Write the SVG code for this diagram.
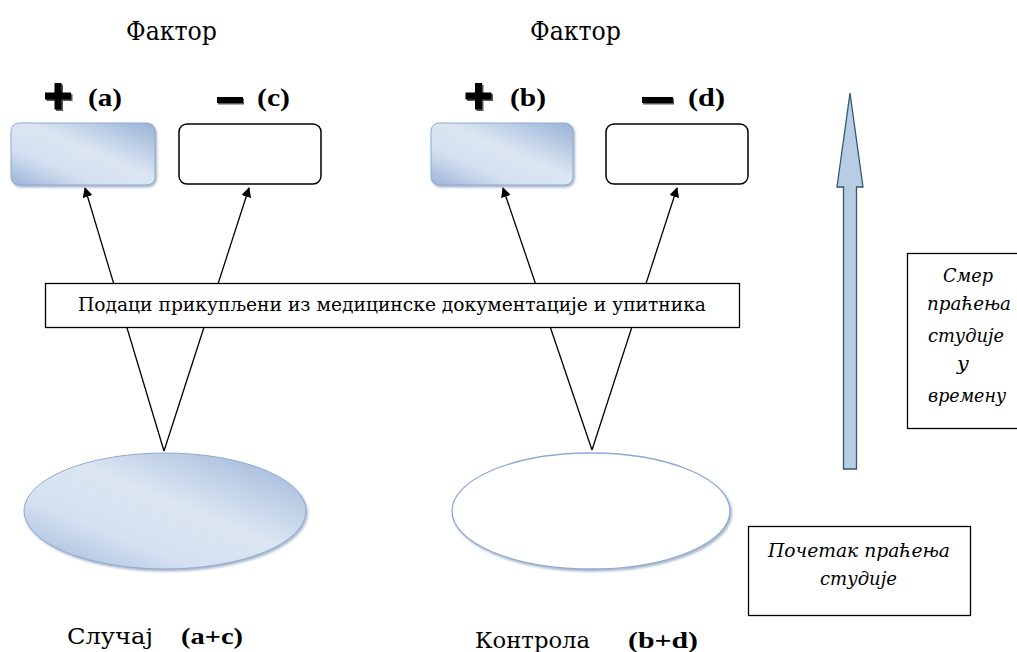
<svg xmlns="http://www.w3.org/2000/svg" width="1017" height="652" viewBox="0 0 1017 652">
<style>
.t{font-family:'DejaVu Serif',serif;fill:#000}
.lb{font-family:'Liberation Serif','DejaVu Serif',serif;font-weight:bold;fill:#000}
.i{font-style:italic}
.wb{fill:#fff;stroke:#000;stroke-width:1.5}
.bb{fill:url(#g);stroke:#8eaad3;stroke-width:1}
.ln{stroke:#000;stroke-width:1.3;fill:none}
.frame{fill:#fff;stroke:#000;stroke-width:1.3}
.sd{fill:#5a5a5a}
</style>
<defs>
<linearGradient id="g" x1="0" y1="1" x2="1" y2="0">
<stop offset="0" stop-color="#9cb4d8"/>
<stop offset="0.3" stop-color="#d4e0f0"/>
<stop offset="0.55" stop-color="#dce6f2"/>
<stop offset="1" stop-color="#99b2d6"/>
</linearGradient>
<marker id="ah" markerWidth="10" markerHeight="10" refX="9" refY="5" orient="auto" markerUnits="userSpaceOnUse" viewBox="0 0 10 10">
<path d="M0,0 L10,5 L0,10 z" fill="#000"/>
</marker>
<filter id="sh" x="-10%" y="-10%" width="130%" height="130%">
<feDropShadow dx="1.5" dy="2" stdDeviation="0.8" flood-color="#6f86a8" flood-opacity="0.6"/>
</filter>
<path id="plus" d="M-3.5,-13 h7 v9.5 h9.5 v7 h-9.5 v10 h-7 v-10 h-9.5 v-7 h9.5 z"/>
</defs>
<rect width="1017" height="652" fill="#fff"/>

<g id="connectors">
<line class="ln" x1="164" y1="451" x2="85" y2="188" marker-end="url(#ah)"/>
<line class="ln" x1="164" y1="451" x2="249" y2="188" marker-end="url(#ah)"/>
<line class="ln" x1="592" y1="450" x2="503" y2="188" marker-end="url(#ah)"/>
<line class="ln" x1="592" y1="450" x2="677" y2="188" marker-end="url(#ah)"/>
</g>

<g id="labels-top">
<text class="t" x="126" y="40" font-size="26" textLength="91" lengthAdjust="spacingAndGlyphs">Фактор</text>
<text class="t" x="530" y="40" font-size="26" textLength="91" lengthAdjust="spacingAndGlyphs">Фактор</text>
</g>

<g id="sign-a">
<use href="#plus" x="59.5" y="97.5" class="sd"/>
<use href="#plus" x="58" y="96"/>
<text class="lb" x="88" y="106" font-size="25" textLength="34" lengthAdjust="spacingAndGlyphs">(a)</text>
</g>
<g id="sign-c">
<rect x="218" y="98.5" width="26" height="6" class="sd"/>
<rect x="217" y="97" width="26" height="6" fill="#000"/>
<text class="lb" x="257" y="106" font-size="25" textLength="33" lengthAdjust="spacingAndGlyphs">(c)</text>
</g>
<g id="sign-b">
<use href="#plus" x="480" y="97.5" class="sd"/>
<use href="#plus" x="478.5" y="96"/>
<text class="lb" x="510" y="106" font-size="25" textLength="36" lengthAdjust="spacingAndGlyphs">(b)</text>
</g>
<g id="sign-d">
<rect x="643" y="98.5" width="31" height="6" class="sd"/>
<rect x="642" y="97" width="31" height="6" fill="#000"/>
<text class="lb" x="688" y="106" font-size="25" textLength="37" lengthAdjust="spacingAndGlyphs">(d)</text>
</g>

<g id="box-a"><rect class="bb" x="11" y="123" width="144" height="62" rx="8" filter="url(#sh)"/></g>
<g id="box-c"><rect class="wb" x="179" y="124" width="142" height="60" rx="8"/></g>
<g id="box-b"><rect class="bb" x="431" y="123" width="142" height="62" rx="8" filter="url(#sh)"/></g>
<g id="box-d"><rect class="wb" x="606" y="124" width="142" height="60" rx="8"/></g>

<g id="data-box">
<rect class="frame" x="45.5" y="283.5" width="694" height="44"/>
<text class="t" x="78" y="311" font-size="19" textLength="628" lengthAdjust="spacingAndGlyphs">Подаци прикупљени из медицинске документације и упитника</text>
</g>

<g id="case">
<ellipse cx="165" cy="511" rx="141" ry="58" fill="url(#g)" stroke="#8eaad3" stroke-width="1" filter="url(#sh)"/>
</g>
<g id="control">
<ellipse cx="591" cy="511" rx="139" ry="58" fill="#fff" stroke="#8eaad3" stroke-width="1.3" filter="url(#sh)"/>
</g>

<g id="labels-bottom">
<text class="t" x="67" y="644" font-size="22" textLength="86" lengthAdjust="spacingAndGlyphs">Случај</text>
<text class="lb" x="181" y="644" font-size="23" textLength="62" lengthAdjust="spacingAndGlyphs">(a+c)</text>
<text class="t" x="475" y="648" font-size="22" textLength="115" lengthAdjust="spacingAndGlyphs">Контрола</text>
<text class="lb" x="628" y="648" font-size="23" textLength="70" lengthAdjust="spacingAndGlyphs">(b+d)</text>
</g>

<g id="time-arrow">
<path d="M850,93 L863,187 L856.5,187 L856.5,469 L843.5,469 L843.5,187 L837,187 Z" fill="#b8cce4" stroke="#31596e" stroke-width="1.3"/>
</g>

<g id="direction-box">
<rect class="frame" x="907.5" y="253.5" width="115" height="175"/>
<text class="t i" font-size="18">
<tspan x="943" y="282" textLength="50" lengthAdjust="spacingAndGlyphs">Смер</tspan>
<tspan x="927" y="310" textLength="84" lengthAdjust="spacingAndGlyphs">праћења</tspan>
<tspan x="928" y="342" textLength="76" lengthAdjust="spacingAndGlyphs">студије</tspan>
<tspan x="957" y="370" textLength="12" lengthAdjust="spacingAndGlyphs">у</tspan>
<tspan x="928" y="402" textLength="78" lengthAdjust="spacingAndGlyphs">времену</tspan>
</text>
</g>

<g id="start-box">
<rect class="frame" x="748.5" y="526.5" width="222" height="89"/>
<text class="t i" font-size="18">
<tspan x="768" y="557" textLength="182" lengthAdjust="spacingAndGlyphs">Почетак праћења</tspan>
<tspan x="820" y="585" textLength="77" lengthAdjust="spacingAndGlyphs">студије</tspan>
</text>
</g>
</svg>
